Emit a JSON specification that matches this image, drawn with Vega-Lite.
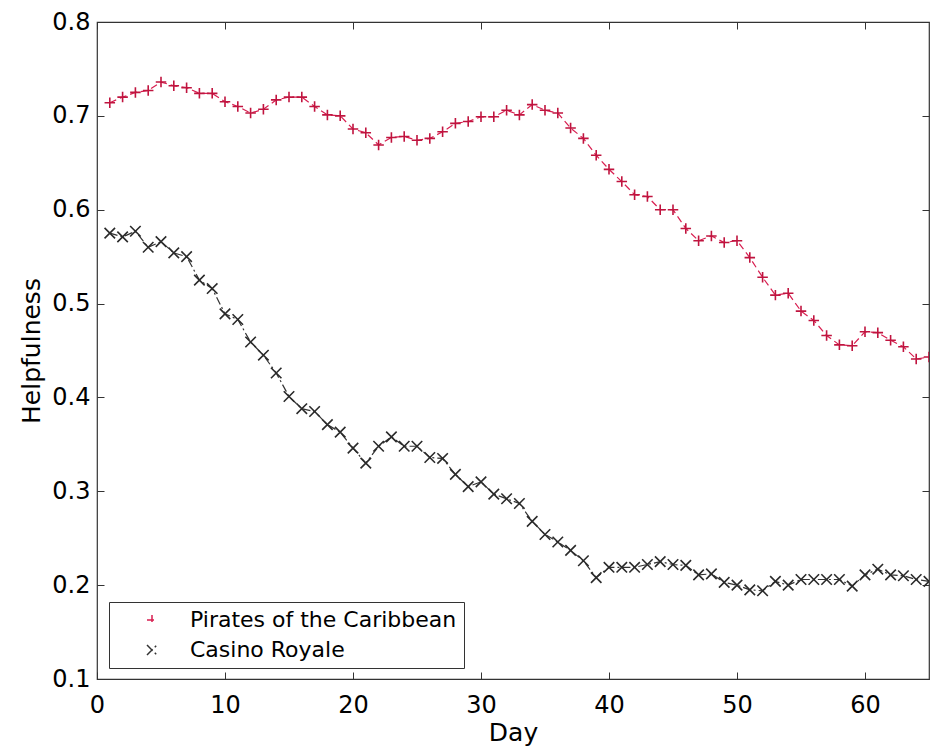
{
  "$schema": "https://vega.github.io/schema/vega-lite/v6.json",
  "autosize": "none",
  "width": 832,
  "height": 657,
  "padding": {"left": 97, "top": 22, "right": 3, "bottom": 72},
  "background": "white",
  "config": {
    "font": "DejaVu Sans",
    "view": {"stroke": "#333333", "strokeWidth": 1.2},
    "axis": {
      "grid": false,
      "domain": false,
      "tickColor": "#333333",
      "tickSize": -7,
      "tickWidth": 1,
      "labelColor": "black",
      "labelFont": "DejaVu Sans",
      "labelFontSize": 24,
      "titleFont": "DejaVu Sans",
      "titleFontSize": 25,
      "titleFontWeight": "normal",
      "titleColor": "black"
    }
  },
  "data": {
    "values": [
      {"day": 1, "series": "Pirates of the Caribbean", "helpfulness": 0.714},
      {"day": 2, "series": "Pirates of the Caribbean", "helpfulness": 0.720},
      {"day": 3, "series": "Pirates of the Caribbean", "helpfulness": 0.725},
      {"day": 4, "series": "Pirates of the Caribbean", "helpfulness": 0.727},
      {"day": 5, "series": "Pirates of the Caribbean", "helpfulness": 0.736},
      {"day": 6, "series": "Pirates of the Caribbean", "helpfulness": 0.732},
      {"day": 7, "series": "Pirates of the Caribbean", "helpfulness": 0.730},
      {"day": 8, "series": "Pirates of the Caribbean", "helpfulness": 0.724},
      {"day": 9, "series": "Pirates of the Caribbean", "helpfulness": 0.724},
      {"day": 10, "series": "Pirates of the Caribbean", "helpfulness": 0.715},
      {"day": 11, "series": "Pirates of the Caribbean", "helpfulness": 0.710},
      {"day": 12, "series": "Pirates of the Caribbean", "helpfulness": 0.703},
      {"day": 13, "series": "Pirates of the Caribbean", "helpfulness": 0.707},
      {"day": 14, "series": "Pirates of the Caribbean", "helpfulness": 0.717},
      {"day": 15, "series": "Pirates of the Caribbean", "helpfulness": 0.720},
      {"day": 16, "series": "Pirates of the Caribbean", "helpfulness": 0.720},
      {"day": 17, "series": "Pirates of the Caribbean", "helpfulness": 0.710},
      {"day": 18, "series": "Pirates of the Caribbean", "helpfulness": 0.701},
      {"day": 19, "series": "Pirates of the Caribbean", "helpfulness": 0.700},
      {"day": 20, "series": "Pirates of the Caribbean", "helpfulness": 0.686},
      {"day": 21, "series": "Pirates of the Caribbean", "helpfulness": 0.682},
      {"day": 22, "series": "Pirates of the Caribbean", "helpfulness": 0.669},
      {"day": 23, "series": "Pirates of the Caribbean", "helpfulness": 0.677},
      {"day": 24, "series": "Pirates of the Caribbean", "helpfulness": 0.678},
      {"day": 25, "series": "Pirates of the Caribbean", "helpfulness": 0.674},
      {"day": 26, "series": "Pirates of the Caribbean", "helpfulness": 0.676},
      {"day": 27, "series": "Pirates of the Caribbean", "helpfulness": 0.683},
      {"day": 28, "series": "Pirates of the Caribbean", "helpfulness": 0.692},
      {"day": 29, "series": "Pirates of the Caribbean", "helpfulness": 0.694},
      {"day": 30, "series": "Pirates of the Caribbean", "helpfulness": 0.699},
      {"day": 31, "series": "Pirates of the Caribbean", "helpfulness": 0.699},
      {"day": 32, "series": "Pirates of the Caribbean", "helpfulness": 0.706},
      {"day": 33, "series": "Pirates of the Caribbean", "helpfulness": 0.701},
      {"day": 34, "series": "Pirates of the Caribbean", "helpfulness": 0.712},
      {"day": 35, "series": "Pirates of the Caribbean", "helpfulness": 0.706},
      {"day": 36, "series": "Pirates of the Caribbean", "helpfulness": 0.703},
      {"day": 37, "series": "Pirates of the Caribbean", "helpfulness": 0.687},
      {"day": 38, "series": "Pirates of the Caribbean", "helpfulness": 0.676},
      {"day": 39, "series": "Pirates of the Caribbean", "helpfulness": 0.658},
      {"day": 40, "series": "Pirates of the Caribbean", "helpfulness": 0.643},
      {"day": 41, "series": "Pirates of the Caribbean", "helpfulness": 0.630},
      {"day": 42, "series": "Pirates of the Caribbean", "helpfulness": 0.616},
      {"day": 43, "series": "Pirates of the Caribbean", "helpfulness": 0.614},
      {"day": 44, "series": "Pirates of the Caribbean", "helpfulness": 0.600},
      {"day": 45, "series": "Pirates of the Caribbean", "helpfulness": 0.600},
      {"day": 46, "series": "Pirates of the Caribbean", "helpfulness": 0.580},
      {"day": 47, "series": "Pirates of the Caribbean", "helpfulness": 0.567},
      {"day": 48, "series": "Pirates of the Caribbean", "helpfulness": 0.572},
      {"day": 49, "series": "Pirates of the Caribbean", "helpfulness": 0.565},
      {"day": 50, "series": "Pirates of the Caribbean", "helpfulness": 0.567},
      {"day": 51, "series": "Pirates of the Caribbean", "helpfulness": 0.549},
      {"day": 52, "series": "Pirates of the Caribbean", "helpfulness": 0.528},
      {"day": 53, "series": "Pirates of the Caribbean", "helpfulness": 0.509},
      {"day": 54, "series": "Pirates of the Caribbean", "helpfulness": 0.511},
      {"day": 55, "series": "Pirates of the Caribbean", "helpfulness": 0.492},
      {"day": 56, "series": "Pirates of the Caribbean", "helpfulness": 0.482},
      {"day": 57, "series": "Pirates of the Caribbean", "helpfulness": 0.466},
      {"day": 58, "series": "Pirates of the Caribbean", "helpfulness": 0.456},
      {"day": 59, "series": "Pirates of the Caribbean", "helpfulness": 0.455},
      {"day": 60, "series": "Pirates of the Caribbean", "helpfulness": 0.470},
      {"day": 61, "series": "Pirates of the Caribbean", "helpfulness": 0.469},
      {"day": 62, "series": "Pirates of the Caribbean", "helpfulness": 0.461},
      {"day": 63, "series": "Pirates of the Caribbean", "helpfulness": 0.454},
      {"day": 64, "series": "Pirates of the Caribbean", "helpfulness": 0.441},
      {"day": 65, "series": "Pirates of the Caribbean", "helpfulness": 0.443},
      {"day": 1, "series": "Casino Royale", "helpfulness": 0.575},
      {"day": 2, "series": "Casino Royale", "helpfulness": 0.571},
      {"day": 3, "series": "Casino Royale", "helpfulness": 0.577},
      {"day": 4, "series": "Casino Royale", "helpfulness": 0.560},
      {"day": 5, "series": "Casino Royale", "helpfulness": 0.566},
      {"day": 6, "series": "Casino Royale", "helpfulness": 0.554},
      {"day": 7, "series": "Casino Royale", "helpfulness": 0.550},
      {"day": 8, "series": "Casino Royale", "helpfulness": 0.525},
      {"day": 9, "series": "Casino Royale", "helpfulness": 0.516},
      {"day": 10, "series": "Casino Royale", "helpfulness": 0.489},
      {"day": 11, "series": "Casino Royale", "helpfulness": 0.483},
      {"day": 12, "series": "Casino Royale", "helpfulness": 0.459},
      {"day": 13, "series": "Casino Royale", "helpfulness": 0.445},
      {"day": 14, "series": "Casino Royale", "helpfulness": 0.426},
      {"day": 15, "series": "Casino Royale", "helpfulness": 0.401},
      {"day": 16, "series": "Casino Royale", "helpfulness": 0.388},
      {"day": 17, "series": "Casino Royale", "helpfulness": 0.385},
      {"day": 18, "series": "Casino Royale", "helpfulness": 0.371},
      {"day": 19, "series": "Casino Royale", "helpfulness": 0.363},
      {"day": 20, "series": "Casino Royale", "helpfulness": 0.346},
      {"day": 21, "series": "Casino Royale", "helpfulness": 0.330},
      {"day": 22, "series": "Casino Royale", "helpfulness": 0.348},
      {"day": 23, "series": "Casino Royale", "helpfulness": 0.358},
      {"day": 24, "series": "Casino Royale", "helpfulness": 0.348},
      {"day": 25, "series": "Casino Royale", "helpfulness": 0.348},
      {"day": 26, "series": "Casino Royale", "helpfulness": 0.336},
      {"day": 27, "series": "Casino Royale", "helpfulness": 0.335},
      {"day": 28, "series": "Casino Royale", "helpfulness": 0.318},
      {"day": 29, "series": "Casino Royale", "helpfulness": 0.305},
      {"day": 30, "series": "Casino Royale", "helpfulness": 0.310},
      {"day": 31, "series": "Casino Royale", "helpfulness": 0.297},
      {"day": 32, "series": "Casino Royale", "helpfulness": 0.292},
      {"day": 33, "series": "Casino Royale", "helpfulness": 0.287},
      {"day": 34, "series": "Casino Royale", "helpfulness": 0.268},
      {"day": 35, "series": "Casino Royale", "helpfulness": 0.254},
      {"day": 36, "series": "Casino Royale", "helpfulness": 0.246},
      {"day": 37, "series": "Casino Royale", "helpfulness": 0.237},
      {"day": 38, "series": "Casino Royale", "helpfulness": 0.226},
      {"day": 39, "series": "Casino Royale", "helpfulness": 0.208},
      {"day": 40, "series": "Casino Royale", "helpfulness": 0.219},
      {"day": 41, "series": "Casino Royale", "helpfulness": 0.219},
      {"day": 42, "series": "Casino Royale", "helpfulness": 0.219},
      {"day": 43, "series": "Casino Royale", "helpfulness": 0.222},
      {"day": 44, "series": "Casino Royale", "helpfulness": 0.225},
      {"day": 45, "series": "Casino Royale", "helpfulness": 0.222},
      {"day": 46, "series": "Casino Royale", "helpfulness": 0.221},
      {"day": 47, "series": "Casino Royale", "helpfulness": 0.211},
      {"day": 48, "series": "Casino Royale", "helpfulness": 0.212},
      {"day": 49, "series": "Casino Royale", "helpfulness": 0.203},
      {"day": 50, "series": "Casino Royale", "helpfulness": 0.200},
      {"day": 51, "series": "Casino Royale", "helpfulness": 0.195},
      {"day": 52, "series": "Casino Royale", "helpfulness": 0.194},
      {"day": 53, "series": "Casino Royale", "helpfulness": 0.204},
      {"day": 54, "series": "Casino Royale", "helpfulness": 0.200},
      {"day": 55, "series": "Casino Royale", "helpfulness": 0.206},
      {"day": 56, "series": "Casino Royale", "helpfulness": 0.206},
      {"day": 57, "series": "Casino Royale", "helpfulness": 0.206},
      {"day": 58, "series": "Casino Royale", "helpfulness": 0.206},
      {"day": 59, "series": "Casino Royale", "helpfulness": 0.199},
      {"day": 60, "series": "Casino Royale", "helpfulness": 0.211},
      {"day": 61, "series": "Casino Royale", "helpfulness": 0.217},
      {"day": 62, "series": "Casino Royale", "helpfulness": 0.211},
      {"day": 63, "series": "Casino Royale", "helpfulness": 0.210},
      {"day": 64, "series": "Casino Royale", "helpfulness": 0.206},
      {"day": 65, "series": "Casino Royale", "helpfulness": 0.204}
    ]
  },
  "layer": [
    {
      "mark": {"type": "line", "strokeWidth": 1.2, "clip": true},
      "encoding": {
        "x": {
          "field": "day", "type": "quantitative",
          "scale": {"domain": [0, 65], "nice": false, "zero": false},
          "axis": {"orient": "bottom", "title": "Day", "values": [0, 10, 20, 30, 40, 50, 60], "labelPadding": 21, "titlePadding": 3, "labelFlush": false}
        },
        "y": {
          "field": "helpfulness", "type": "quantitative",
          "scale": {"domain": [0.1, 0.8], "nice": false, "zero": false},
          "axis": {"orient": "left", "title": "Helpfulness", "values": [0.1, 0.2, 0.3, 0.4, 0.5, 0.6, 0.7, 0.8], "format": ".1f", "labelPadding": 14, "titlePadding": 7, "labelFlush": false}
        },
        "color": {
          "field": "series", "type": "nominal",
          "scale": {"domain": ["Pirates of the Caribbean", "Casino Royale"], "range": ["#d81e50", "#333333"]},
          "legend": {
            "title": null,
            "orient": "none",
            "legendX": 12,
            "legendY": 580,
            "strokeColor": "#333333",
            "fillColor": "white",
            "padding": 7,
            "rowPadding": 8,
            "labelFont": "DejaVu Sans",
            "labelFontSize": 22,
            "labelColor": "black",
            "labelLimit": 0,
            "symbolSize": 100,
            "symbolOffset": 25,
            "labelOffset": 27,
            "symbolStrokeWidth": 1.5
          }
        },
        "strokeDash": {
          "field": "series", "type": "nominal",
          "scale": {"domain": ["Pirates of the Caribbean", "Casino Royale"], "range": [[7, 4], [8, 3, 2, 3]]},
          "legend": null
        }
      }
    },
    {
      "mark": {"type": "point", "filled": false, "strokeWidth": 1.6, "opacity": 1, "clip": true},
      "encoding": {
        "x": {
          "field": "day", "type": "quantitative",
          "axis": {"orient": "top", "title": null, "labels": false, "values": [0, 10, 20, 30, 40, 50, 60]}
        },
        "y": {
          "field": "helpfulness", "type": "quantitative",
          "axis": {"orient": "right", "title": null, "labels": false, "values": [0.1, 0.2, 0.3, 0.4, 0.5, 0.6, 0.7, 0.8]}
        },
        "stroke": {
          "field": "series", "type": "nominal",
          "scale": {"domain": ["Pirates of the Caribbean", "Casino Royale"], "range": ["#c0143f", "#2a2a2a"]},
          "legend": null
        },
        "shape": {
          "field": "series", "type": "nominal",
          "scale": {"domain": ["Pirates of the Caribbean", "Casino Royale"], "range": ["M-1,0L1,0M0,-1L0,1", "M-1,-1L1,1M-1,1L1,-1"]},
          "legend": null
        },
        "size": {"value": 110}
      }
    }
  ]
}
